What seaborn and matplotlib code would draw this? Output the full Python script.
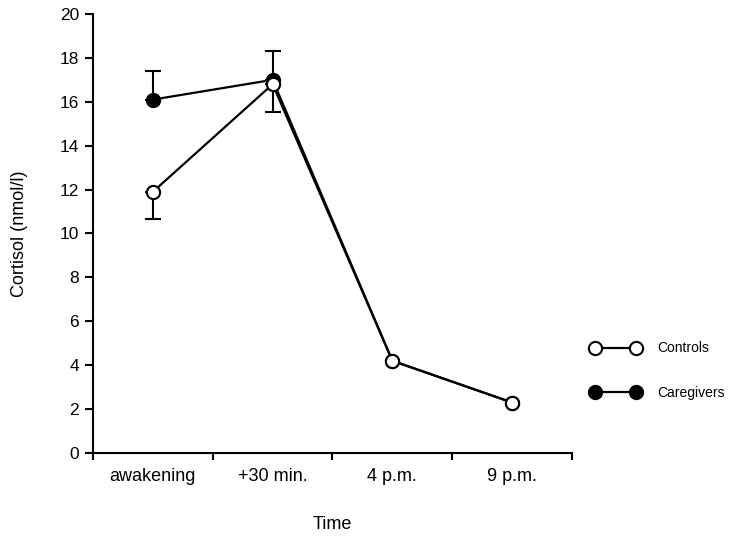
import matplotlib
matplotlib.use("Agg")
import matplotlib.pyplot as plt
from matplotlib.lines import Line2D
from matplotlib.ticker import FixedLocator, NullFormatter, FixedFormatter
import seaborn as sns
import pandas as pd

times = ["awakening", "+30 min.", "4 p.m.", "9 p.m."]
controls = [11.9, 16.8, 4.2, 2.3]
caregivers = [16.1, 17.0, 4.2, 2.3]
# one-sided standard errors (controls downward, caregivers upward)
controls_err = [1.25, 1.25, 0.0, 0.0]
caregivers_err = [1.3, 1.3, 0.0, 0.0]

sns.set_theme(style="ticks")
plt.rcParams["font.family"] = ["Liberation Sans", "DejaVu Sans"]
plt.rcParams["text.color"] = "black"
plt.rcParams["axes.labelcolor"] = "black"
plt.rcParams["xtick.color"] = "black"
plt.rcParams["ytick.color"] = "black"

pos = list(range(len(times)))
df = pd.DataFrame({
    "pos": pos * 2,
    "cortisol": caregivers + controls,
    "group": ["Caregivers"] * 4 + ["Controls"] * 4,
})

fig = plt.figure(figsize=(7.29, 5.38), dpi=100)
ax = fig.add_axes([0.1276, 0.158, 0.657, 0.816])

# error bars first so markers sit on top
ax.errorbar(pos[:2], caregivers[:2], yerr=[[0, 0], caregivers_err[:2]],
            fmt="none", ecolor="black", elinewidth=1.5, capsize=6, capthick=1.5, zorder=1)
ax.errorbar(pos[:2], controls[:2], yerr=[controls_err[:2], [0, 0]],
            fmt="none", ecolor="black", elinewidth=1.5, capsize=6, capthick=1.5, zorder=1)

sns.lineplot(data=df[df.group == "Caregivers"], x="pos", y="cortisol", ax=ax,
             color="black", linewidth=1.6, marker="o", markersize=9.5,
             markerfacecolor="black", markeredgecolor="black", markeredgewidth=1.5,
             zorder=3, legend=False)
sns.lineplot(data=df[df.group == "Controls"], x="pos", y="cortisol", ax=ax,
             color="black", linewidth=1.6, marker="o", markersize=9.5,
             markerfacecolor="white", markeredgecolor="black", markeredgewidth=1.5,
             zorder=4, legend=False)

ax.set_xlim(-0.5, 3.5)
ax.set_ylim(0, 20)
ax.set_yticks(range(0, 21, 2))
ax.xaxis.set_major_locator(FixedLocator([-0.5, 0.5, 1.5, 2.5, 3.5]))
ax.xaxis.set_major_formatter(NullFormatter())
ax.xaxis.set_minor_locator(FixedLocator(pos))
ax.xaxis.set_minor_formatter(FixedFormatter(times))
ax.tick_params(axis="x", which="minor", length=0, pad=11, labelsize=13)
ax.tick_params(axis="x", which="major", length=5, width=1.5, direction="out")
ax.tick_params(axis="y", length=6, width=1.5, direction="out", labelsize=12.5, pad=4)
for s in ["top", "right"]:
    ax.spines[s].set_visible(False)
for s in ["left", "bottom"]:
    ax.spines[s].set_linewidth(1.5)
    ax.spines[s].set_color("black")

ax.set_xlabel("Time", fontsize=13, labelpad=22)
ax.set_ylabel("Cortisol (nmol/l)", fontsize=13, labelpad=23)

handles = [
    Line2D([0], [0], color="black", linewidth=1.6, marker="o", markersize=9.5,
           markerfacecolor="white", markeredgecolor="black", markeredgewidth=1.5),
    Line2D([0], [0], color="black", linewidth=1.6, marker="o", markersize=9.5,
           markerfacecolor="black", markeredgecolor="black", markeredgewidth=1.5),
]
fig.legend(handles, ["Controls", "Caregivers"], loc="center left",
           bbox_to_anchor=(0.794, 0.311), frameon=False, numpoints=2,
           handlelength=3.55, handletextpad=1.2, labelspacing=2.2, fontsize=10)

fig.savefig("out.png", dpi=100, facecolor="white")
